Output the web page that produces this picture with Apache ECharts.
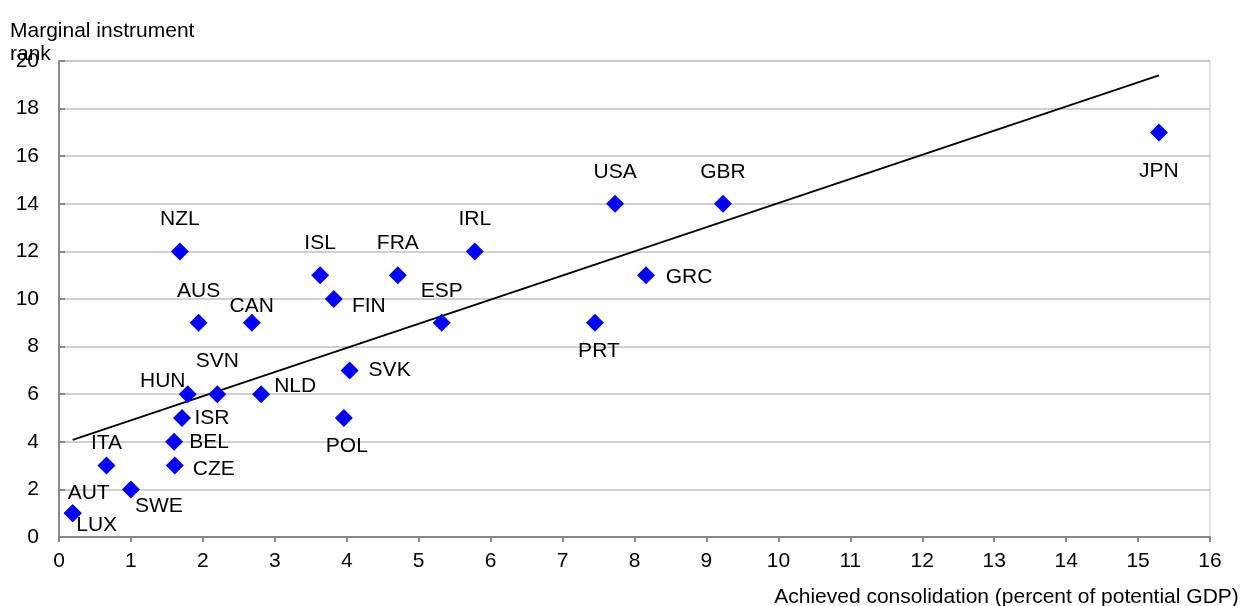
<!DOCTYPE html>
<html>
<head>
<meta charset="utf-8">
<script src="https://cdn.jsdelivr.net/npm/echarts@6/dist/echarts.min.js"></script>
<style>html,body{margin:0;padding:0;background:#fff;}#c{width:1245px;height:606px;}</style>
</head>
<body>
<div id="c"></div>
<script>
// Data
const countries = ['LUX','AUT','ITA','SWE','CZE','BEL','ISR','HUN','SVN','NLD','NZL','AUS','CAN','ISL','FIN','FRA','ESP','SVK','POL','IRL','USA','GBR','GRC','PRT','JPN'];
const consolidation = [0.19,0.19,0.66,1.0,1.61,1.6,1.71,1.79,2.2,2.81,1.68,1.94,2.68,3.63,3.82,4.71,5.32,4.04,3.96,5.78,7.73,9.23,8.16,7.45,15.29];
const instrumentRank = [1,1,3,2,3,4,5,6,6,6,12,9,9,11,10,11,9,7,5,12,14,14,11,9,17];
// Fitted trend line endpoints as drawn in the reference
const trendX = [0.19, 15.29];
const trendY = [4.08, 19.4];
const xTicks = [0,1,2,3,4,5,6,7,8,9,10,11,12,13,14,15,16];
const yTicks = [0,2,4,6,8,10,12,14,16,18,20];

// Label placement (style only)
const labelOffsets = {
  LUX:[24,12], AUT:[16,-20], ITA:[0,-22], SWE:[28,17], CZE:[39,4], BEL:[35,0], ISR:[30,0],
  HUN:[-25,-13], SVN:[0,-33], NLD:[34,-8], NZL:[0,-32], AUS:[0,-32], CAN:[0,-17], ISL:[0,-32],
  FIN:[35,7], FRA:[0,-32], ESP:[0,-32], SVK:[40,0], POL:[3,28], IRL:[0,-32], USA:[0,-32],
  GBR:[0,-32], GRC:[43,2], PRT:[4,28], JPN:[0,39]
};

const font = 'Liberation Sans, Arial, sans-serif';
const FS = 21;
const chart = echarts.init(document.getElementById('c'), null, {renderer:'canvas'});
const scatterData = countries.map((c,i)=>({
  name:c, value:[consolidation[i], instrumentRank[i]],
  label:{show:true, position:'inside', offset:labelOffsets[c], formatter:c,
    color:'#000', fontFamily:font, fontSize:FS}
}));
chart.setOption({
  animation:false,
  backgroundColor:'#fff',
  title:{text:'Marginal instrument\nrank', left:10, top:20, padding:0,
    textStyle:{fontFamily:font, fontSize:FS, fontWeight:'normal', color:'#000', lineHeight:23}},
  grid:{left:59, right:35, top:61, bottom:69, show:true, borderColor:'#c0c0c0', borderWidth:1,
    containLabel:false, outerBoundsMode:'none'},
  xAxis:{type:'value', min:xTicks[0], max:xTicks[xTicks.length-1], interval:1,
    name:'Achieved consolidation (percent of potential GDP)', nameLocation:'middle', nameGap:50,
    nameTextStyle:{fontFamily:font, fontSize:FS, color:'#000', padding:[0,0,0,744]},
    axisLine:{lineStyle:{color:'#888', width:2}},
    axisTick:{show:true, inside:false, length:5, lineStyle:{color:'#888', width:2}},
    axisLabel:{fontFamily:font, fontSize:FS, color:'#000', margin:14},
    splitLine:{show:false}},
  yAxis:{type:'value', min:yTicks[0], max:yTicks[yTicks.length-1], interval:2,
    axisLine:{show:true, lineStyle:{color:'#888', width:2}},
    axisTick:{show:true, inside:true, length:6, lineStyle:{color:'#888', width:2}},
    axisLabel:{fontFamily:font, fontSize:FS, color:'#000', margin:20},
    splitLine:{show:true, lineStyle:{color:'#c0c0c0', width:1.5}}},
  series:[
    {type:'line', data:trendX.map((x,i)=>[x,trendY[i]]), showSymbol:false, symbol:'none',
     lineStyle:{color:'#000', width:1.8}, z:3, silent:true},
    {type:'scatter', data:scatterData, symbol:'diamond', symbolSize:18,
     itemStyle:{color:'#0000ff', opacity:1}, z:4}
  ]
});
</script>
</body>
</html>
